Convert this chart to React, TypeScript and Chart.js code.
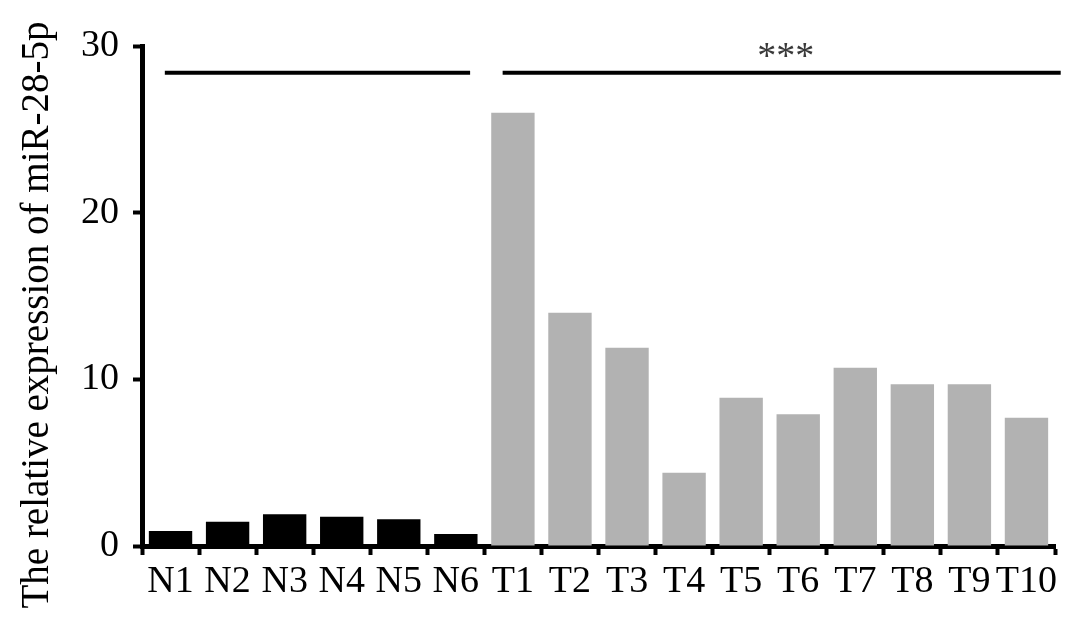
import React, { useEffect, useRef } from "react";
import { Chart, registerables } from "chart.js";

Chart.register(...registerables);

const normalLabels = ["N1", "N2", "N3", "N4", "N5", "N6"];
const tumorLabels = ["T1", "T2", "T3", "T4", "T5", "T6", "T7", "T8", "T9", "T10"];
const normalValues = [0.9, 1.45, 1.9, 1.75, 1.6, 0.72];
const tumorValues = [26.0, 14.0, 11.9, 4.4, 8.9, 7.9, 10.7, 9.7, 9.7, 7.7];
const yTicks = [0, 10, 20, 30];
const yTitle = "The relative expression of miR-28-5p";
const significance = "***";
// bracket lines [startIndex, endIndex] at a y value
const bracketStarts = [-0.1, 5.82];
const bracketEnds = [5.25, 15.6];
const bracketValue = 28.4;
const starIndex = 10.78;
const starValue = 29.6;

const FONT = "'Liberation Serif', 'Times New Roman', serif";

export default function App() {
  const ref = useRef<HTMLCanvasElement>(null);
  useEffect(() => {
    if (!ref.current) return;
    const labels = [...normalLabels, ...tumorLabels];
    const values = [...normalValues, ...tumorValues];
    const colors = [
      ...normalValues.map(() => "#000000"),
      ...tumorValues.map(() => "#b2b2b2"),
    ];
    const annot = {
      id: "annot",
      afterDraw(chart: any) {
        const ctx = chart.ctx;
        const x = chart.scales.x;
        const y = chart.scales.y;
        ctx.save();
        ctx.strokeStyle = "#000";
        ctx.lineWidth = 4;
        const by = y.getPixelForValue(bracketValue);
        for (let i = 0; i < bracketStarts.length; i++) {
          ctx.beginPath();
          ctx.moveTo(x.getPixelForValue(bracketStarts[i]), by);
          ctx.lineTo(x.getPixelForValue(bracketEnds[i]), by);
          ctx.stroke();
        }
        ctx.fillStyle = "#3a3a3a";
        ctx.font = `38px ${FONT}`;
        ctx.textAlign = "center";
        ctx.textBaseline = "middle";
        ctx.fillText(significance, x.getPixelForValue(starIndex), y.getPixelForValue(starValue) + 5);
        // y title
        ctx.fillStyle = "#000";
        ctx.font = `39px ${FONT}`;
        ctx.translate(38, 315);
        ctx.rotate(-Math.PI / 2);
        ctx.fillText(yTitle, 0, 0);
        ctx.restore();
      },
    };
    const chart = new Chart(ref.current, {
      type: "bar",
      data: {
        labels,
        datasets: [
          {
            data: values,
            backgroundColor: colors,
            borderWidth: 0,
            barPercentage: 0.76,
            categoryPercentage: 1,
          },
        ],
      },
      options: {
        responsive: false,
        animation: false,
        devicePixelRatio: 1,
        layout: { padding: { top: 46, right: 32, left: 0, bottom: 0 } },
        plugins: { legend: { display: false }, tooltip: { enabled: false } },
        scales: {
          x: {
            offset: true,
            grid: {
              display: true,
              drawOnChartArea: false,
              drawTicks: true,
              tickLength: 9,
              tickWidth: 4,
              tickColor: "#000",
              offset: true,
            },
            border: { display: true, color: "#000", width: 5 },
            ticks: {
              color: "#000",
              font: { family: FONT, size: 38 },
              padding: 4,
              maxRotation: 0,
              autoSkip: false,
            },
            afterFit(scale: any) {
              scale.height = 84;
            },
          },
          y: {
            min: 0,
            max: 30,
            afterBuildTicks(scale: any) {
              scale.ticks = yTicks.map((v) => ({ value: v }));
            },
            grid: {
              display: true,
              drawOnChartArea: false,
              drawTicks: true,
              tickLength: 9,
              tickWidth: 4,
              tickColor: "#000",
            },
            border: { display: true, color: "#000", width: 5 },
            ticks: {
              color: "#000",
              font: { family: FONT, size: 38 },
              padding: 14,
            },
            afterFit(scale: any) {
              scale.width = 142;
            },
          },
        },
      },
      plugins: [annot],
    });
    return () => chart.destroy();
  }, []);
  return (
    <div style={{ position: "absolute", left: 0, top: 0, width: 1087, height: 630, background: "#fff" }}>
      <canvas ref={ref} width={1087} height={630} />
    </div>
  );
}
